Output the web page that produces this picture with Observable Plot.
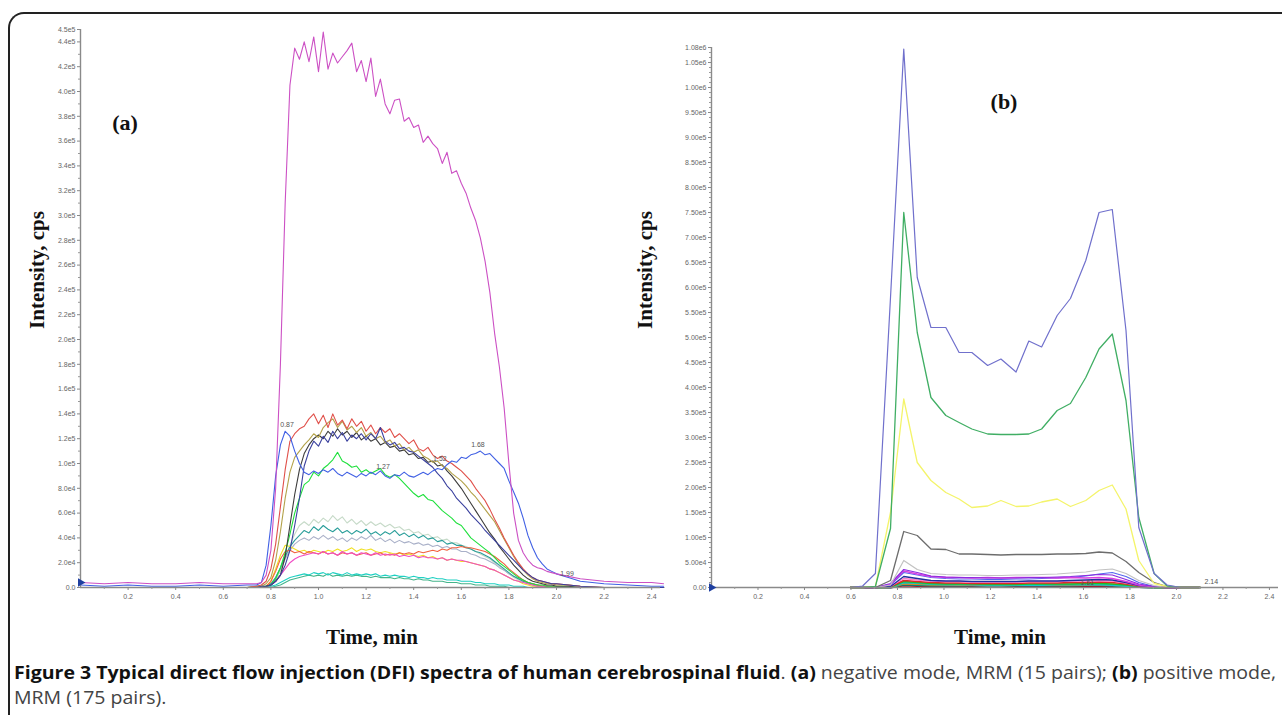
<!DOCTYPE html>
<html><head><meta charset="utf-8">
<script src="https://cdn.jsdelivr.net/npm/d3@7"></script>
<script src="https://cdn.jsdelivr.net/npm/@observablehq/plot@0.6"></script>
<style>
body{margin:0;background:#fff;width:1282px;height:715px;position:relative;overflow:hidden;font-family:"Liberation Sans",Arial,sans-serif}
.frame{position:absolute;left:8px;top:12px;width:1300px;height:720px;border-left:2px solid #222;border-top:2px solid #222;border-top-left-radius:16px;box-sizing:border-box}
.panel{position:absolute;top:0}
.ylab{position:absolute;font:bold 21px "Liberation Serif",serif;transform:translate(-50%,-50%) rotate(-90deg);white-space:nowrap;color:#111}
.xlab{position:absolute;font:bold 21px "Liberation Serif",serif;transform:translate(-50%,-50%);white-space:nowrap;color:#111}
.plab{position:absolute;font:bold 22px "Liberation Serif",serif;transform:translate(-50%,-50%);white-space:nowrap;color:#111}
.cap{position:absolute;left:14px;font-family:"Open Sans",sans-serif;font-size:18.5px;line-height:22px;white-space:nowrap;transform-origin:0 50%;color:#444}
.cap b{color:#111}
</style></head>
<body>
<div class="frame"></div>
<div class="panel" id="pa" style="left:0"></div>
<div class="panel" id="pb" style="left:620px"></div>
<div class="ylab" style="left:37px;top:270px">Intensity, cps</div>
<div class="ylab" style="left:645px;top:270px">Intensity, cps</div>
<div class="xlab" style="left:372px;top:637px">Time, min</div>
<div class="xlab" style="left:1000px;top:637px">Time, min</div>
<div class="plab" style="left:125px;top:123px">(a)</div>
<div class="plab" style="left:1004px;top:102px">(b)</div>
<div class="cap" id="cap1" style="top:661px"><b>Figure 3 Typical direct flow injection (DFI) spectra of human cerebrospinal fluid</b>. <b>(a)</b> negative mode, MRM (15 pairs); <b>(b)</b> positive mode,</div>
<div class="cap" id="cap2" style="top:686px">MRM (175 pairs).</div>
<script>
// ---------- Panel (a): negative mode, intensity in units of 1e4 cps ----------
const tA = [0,0.1,0.2,0.3,0.4,0.5,0.6,0.7,
0.74,0.76,0.78,0.80,0.82,0.84,0.86,0.88,0.90,0.92,
0.94,0.96,0.98,1.00,1.02,1.04,1.06,1.08,1.10,1.12,
1.14,1.16,1.18,1.20,1.22,1.24,1.26,1.28,1.30,1.32,
1.34,1.36,1.38,1.40,1.42,1.44,1.46,1.48,1.50,1.52,
1.54,1.56,1.58,1.60,1.62,1.64,1.66,1.68,1.70,1.72,
1.74,1.76,1.78,1.80,1.82,1.84,1.86,1.88,1.90,1.92,
1.94,1.96,1.98,2.00,
2.05,2.10,2.20,2.30,2.40,2.45];

const magentaA = [0.4,0.3,0.4,0.3,0.3,0.4,0.3,0.3,
0.3,0.4,1.0,3.0,8.0,18.0,31.0,40.5,43.5,42.6,
44.0,42.4,44.4,41.6,44.8,41.8,43.1,42.3,42.8,43.3,
43.9,41.6,42.5,40.8,42.7,39.6,41.0,39.0,38.2,39.3,
39.4,37.6,37.9,37.1,37.3,35.9,36.4,35.8,35.4,34.2,
35.1,33.4,33.6,32.6,31.8,30.6,29.6,28.2,26.3,23.8,
20.5,17.8,14.5,10.0,6.0,3.8,2.8,2.2,1.8,1.6,
1.5,1.3,1.2,1.1,
0.9,0.7,0.5,0.4,0.4,0.3];
const blueA = [0.2,0.1,0.2,0.1,0.1,0.2,0.1,0.2,
0.2,0.4,1.8,5.0,9.0,11.5,12.6,12.2,11.0,10.0,
9.3,9.1,9.4,9.2,9.5,9.3,9.6,9.2,9.0,9.3,
9.1,8.9,9.2,9.0,9.3,9.1,9.4,9.0,8.8,9.1,
9.0,9.3,9.0,8.9,9.1,9.3,9.1,9.4,9.6,9.5,
9.9,10.2,10.1,10.5,10.4,10.7,10.8,11.0,10.7,10.8,
10.4,10.0,9.6,8.6,7.7,6.8,5.6,4.2,3.2,2.4,
1.9,1.5,1.3,1.1,
0.8,0.5,0.3,0.2,0.1,0.1];
const redA = [0,0,0,0,0,0,0,0,
0.1,0.2,0.5,1.5,3.5,6.5,9.5,11.8,12.4,12.8,
13.0,13.6,14.0,13.2,13.9,12.9,14.0,13.1,13.5,12.8,
13.6,13.0,13.4,12.6,13.1,12.4,12.9,12.5,12.8,12.1,
12.4,12.0,11.6,11.9,11.2,11.0,11.3,10.7,10.4,10.6,
10.2,10.0,9.7,9.4,9.0,8.6,8.0,7.5,7.0,6.3,
5.5,4.8,4.0,3.3,2.6,2.0,1.5,1.1,0.8,0.6,
0.5,0.4,0.3,0.3,
0.2,0.1,0,0,0,0];
const oliveA = [0,0,0,0,0,0,0,0,
0.1,0.1,0.3,0.8,2.2,4.5,7.2,9.3,10.5,11.0,
11.5,11.9,12.4,12.1,12.9,13.3,13.6,12.9,13.4,12.7,
13.0,12.5,12.9,12.2,12.5,12.0,12.2,11.7,11.9,11.4,
11.6,11.1,11.3,10.9,11.1,10.6,10.4,10.1,10.2,9.8,
9.6,9.2,8.9,8.6,8.2,7.7,7.3,6.8,6.3,5.8,
5.3,4.6,3.9,3.2,2.5,1.9,1.4,1.0,0.7,0.5,
0.4,0.3,0.3,0.2,
0.2,0.1,0,0,0,0];
const navyA = [0,0,0,0,0,0,0,0,
0,0.1,0.1,0.2,0.5,1.0,1.8,3.0,5.0,7.2,
9.8,11.0,11.8,11.4,12.2,11.7,12.6,12.0,12.5,11.8,
12.3,12.0,12.4,11.9,12.4,12.0,12.9,11.8,11.5,11.7,
11.2,11.3,11.0,10.9,10.6,10.3,10.0,9.7,9.2,8.8,
8.2,7.8,7.2,6.8,6.4,5.9,5.5,5.1,4.6,4.2,
3.8,3.4,3.0,2.6,2.2,1.8,1.4,1.1,0.8,0.6,
0.5,0.4,0.3,0.3,
0.2,0.1,0,0,0,0];
const blackA = [0,0,0,0,0,0,0,0,
0,0,0.1,0.2,0.5,1.0,2.5,5.0,7.5,9.5,
10.8,11.5,12.0,12.3,12.0,12.6,12.2,12.8,12.3,12.6,
12.1,12.5,11.9,12.2,11.8,12.0,11.5,11.7,11.3,11.4,
11.0,11.1,10.7,10.8,10.4,10.5,10.1,10.2,9.8,9.9,
9.4,9.0,8.5,8.0,7.4,6.8,6.2,5.6,5.0,4.4,
3.9,3.3,2.8,2.3,1.8,1.4,1.0,0.7,0.5,0.4,
0.3,0.2,0.2,0.1,
0.1,0,0,0,0,0];
const greenA = [0,0,0,0,0,0,0,0,
0.1,0.1,0.1,0.2,0.7,1.6,2.8,4.3,6.0,7.2,
8.3,8.6,9.3,9.0,9.6,9.9,10.3,10.9,10.2,10.0,
9.7,9.8,9.3,9.5,9.2,9.4,9.6,9.1,8.9,9.1,
8.8,8.4,8.0,7.6,7.3,7.5,7.1,7.0,6.6,6.2,
5.9,5.6,5.2,5.0,4.5,4.0,3.7,3.4,3.1,2.8,
2.4,2.0,1.7,1.4,1.1,0.8,0.6,0.4,0.3,0.2,
0.2,0.1,0.1,0.1,
0.1,0,0,0,0,0];
const paleA = [0,0,0,0,0,0,0,0,
0,0,0,0.2,0.6,1.3,2.3,3.4,4.3,5.0,
5.3,5.0,5.5,5.2,5.6,5.3,5.8,5.4,5.7,5.2,
5.5,5.1,5.4,5.0,5.3,5.0,5.2,4.9,5.1,4.8,
4.9,4.6,4.7,4.4,4.5,4.2,4.3,4.0,4.1,3.8,
3.9,3.6,3.6,3.4,3.3,3.1,2.9,2.7,2.5,2.3,
2.0,1.7,1.4,1.1,0.8,0.6,0.4,0.3,0.2,0.1,
0.1,0.1,0,0,
0,0,0,0,0,0];
const tealA = [0,0,0,0,0,0,0,0,
0,0,0.1,0.3,0.8,1.6,2.5,3.3,3.8,4.2,
4.6,4.4,4.9,4.6,5.0,4.7,4.5,4.8,4.4,4.6,
4.3,4.6,4.4,4.7,4.3,4.5,4.2,4.5,4.3,4.6,
4.2,4.4,4.1,4.3,4.0,4.2,3.9,4.0,3.7,3.8,
3.5,3.6,3.4,3.4,3.2,3.1,2.9,2.8,2.6,2.4,
2.1,1.8,1.5,1.2,0.9,0.7,0.5,0.4,0.3,0.2,
0.1,0.1,0.1,0,
0,0,0,0,0,0];
const steelA = [0,0,0,0,0,0,0,0,
0,0,0.1,0.3,0.8,1.5,2.3,3.0,3.5,3.8,
4.0,3.8,4.1,3.9,4.2,3.9,4.1,3.8,4.0,3.7,
4.0,3.8,4.1,3.9,4.2,3.8,4.0,3.7,3.9,3.6,
3.8,3.6,3.7,3.5,3.6,3.4,3.5,3.3,3.4,3.2,
3.3,3.1,3.1,2.9,2.9,2.7,2.6,2.4,2.3,2.1,
1.9,1.6,1.4,1.1,0.9,0.7,0.5,0.3,0.2,0.1,
0.1,0.1,0,0,
0,0,0,0,0,0];
const orangeA = [0,0,0,0,0,0,0,0,
0,0,0.1,0.5,1.3,2.3,2.9,3.0,2.8,2.9,
2.7,2.9,2.8,2.7,2.9,2.7,2.8,2.6,2.8,2.7,
2.8,2.6,2.7,2.8,2.6,2.7,2.8,2.6,2.7,2.6,
2.8,2.7,2.8,2.7,2.9,2.8,2.9,3.0,2.9,3.1,
3.0,3.2,3.2,3.3,3.2,3.2,3.1,3.0,2.9,2.7,
2.5,2.2,1.9,1.5,1.2,0.9,0.6,0.4,0.3,0.2,
0.1,0.1,0.1,0,
0,0,0,0,0,0];
const yellowA = [0,0,0,0,0,0,0,0,
0,0,0.1,0.5,1.5,2.6,3.4,3.3,3.1,2.9,
3.0,2.8,3.0,2.9,2.8,3.0,2.9,3.1,2.9,3.0,
3.2,2.9,3.1,3.0,3.1,2.9,2.8,2.9,2.8,2.7,
2.8,2.6,2.7,2.6,2.5,2.6,2.4,2.5,2.3,2.4,
2.2,2.3,2.2,2.1,2.1,2.0,1.9,1.8,1.7,1.5,
1.4,1.2,1.0,0.8,0.6,0.5,0.3,0.2,0.1,0.1,
0.1,0,0,0,
0,0,0,0,0,0];
const pinkA = [0,0,0,0,0,0,0,0,
0,0,0,0.2,0.5,1.0,1.5,2.0,2.3,2.5,
2.6,2.7,2.8,2.7,2.9,2.7,2.8,2.6,2.9,2.7,
2.8,2.6,2.8,2.7,2.6,2.8,2.6,2.7,2.6,2.7,
2.5,2.6,2.5,2.6,2.4,2.5,2.4,2.4,2.3,2.4,
2.2,2.3,2.2,2.2,2.1,2.0,1.9,1.8,1.7,1.5,
1.4,1.2,1.0,0.8,0.6,0.5,0.4,0.3,0.2,0.1,
0.1,0,0,0,
0,0,0,0,0,0];
const cyanA = [0,0,0,0,0,0,0,0,
0,0,0,0.1,0.2,0.4,0.6,0.8,0.9,1.0,
1.1,1.0,1.2,1.1,1.2,1.0,1.2,1.1,1.0,1.2,
1.0,1.1,1.0,1.1,1.0,1.1,0.9,1.0,0.9,1.0,
0.9,0.9,0.8,0.9,0.8,0.8,0.7,0.8,0.7,0.7,
0.6,0.6,0.6,0.5,0.5,0.5,0.4,0.4,0.3,0.3,
0.3,0.2,0.2,0.2,0.1,0.1,0.1,0,0,0,
0,0,0,0,
0,0,0,0,0,0];
const seagreenA = [0,0,0,0,0,0,0,0,
0,0,0,0,0.1,0.2,0.4,0.6,0.7,0.8,
0.9,1.0,0.9,1.0,0.9,1.1,0.9,1.0,0.9,1.0,
0.9,1.0,0.9,0.9,0.8,0.9,0.8,0.8,0.8,0.7,
0.8,0.7,0.7,0.6,0.7,0.6,0.6,0.5,0.5,0.5,
0.4,0.4,0.4,0.3,0.3,0.3,0.2,0.2,0.2,0.1,
0.1,0.1,0.1,0,0,0,0,0,0,0,
0,0,0,0,
0,0,0,0,0,0];

const seriesA = [
  {name:"pale", color:"#c6dac8", values:paleA},
  {name:"steel", color:"#a9b0c8", values:steelA},
  {name:"teal", color:"#2a9e9a", values:tealA},
  {name:"yellow", color:"#f0e024", values:yellowA},
  {name:"orange", color:"#f2603e", values:orangeA},
  {name:"pink", color:"#f04cc4", values:pinkA},
  {name:"seagreen", color:"#44b48a", values:seagreenA},
  {name:"cyan", color:"#1fd0c2", values:cyanA},
  {name:"green", color:"#1ee03c", values:greenA},
  {name:"black", color:"#3c3c3c", values:blackA},
  {name:"olive", color:"#b3a24a", values:oliveA},
  {name:"red", color:"#e0504a", values:redA},
  {name:"navy", color:"#3a409e", values:navyA},
  {name:"blue", color:"#4060e4", values:blueA},
  {name:"magenta", color:"#cc50c4", values:magentaA}
];
const peakTimeA = [0.868, 1.271, 1.51, 1.67, 2.044];
const peakLevelA = [13.1, 9.7, 10.4, 11.5, 1.13];
const peakTextA = ["0.87", "1.27", "1.52", "1.68", "1.99"];
const yTicksA = [0,20000,40000,60000,80000,100000,120000,140000,160000,180000,200000,220000,240000,260000,280000,300000,320000,340000,360000,380000,400000,420000,440000,450000];

// ---------- Panel (b): positive mode, intensity in units of 1e5 cps ----------
const tB = [0.6,0.65,0.705,0.77,
0.827,0.885,0.944,1.008,1.065,1.12,1.188,1.245,1.31,1.365,
1.42,1.487,1.544,1.61,1.667,1.724,1.783,1.838,1.904,1.96,
2.02,2.1];
const blueB = [0,0.03,0.28,5.8, 10.77,6.2,5.2,5.2,4.7,4.7,4.44,4.57,4.31,4.93, 4.81,5.44,5.78,6.54,7.5,7.56,5.14,1.2,0.28,0.05, 0,0];
const greenB = [0,0,0.02,1.18, 7.5,5.1,3.8,3.44,3.3,3.17,3.07,3.06,3.06,3.07, 3.17,3.54,3.68,4.2,4.77,5.07,3.74,1.4,0.28,0.03, 0,0];
const yellowB = [0,0,0.02,1.5, 3.77,2.5,2.14,1.9,1.77,1.6,1.63,1.74,1.62,1.63, 1.71,1.77,1.62,1.74,1.94,2.05,1.57,0.54,0.08,0.02, 0,0];
const greyB = [0,0,0,0.14, 1.12,1.04,0.77,0.76,0.67,0.67,0.66,0.65,0.66,0.66, 0.66,0.67,0.67,0.68,0.71,0.69,0.52,0.3,0.1,0.02, 0,0];
const lightGreyB = [0,0,0,0.05, 0.54,0.36,0.28,0.26,0.25,0.25,0.24,0.24,0.25,0.25, 0.26,0.27,0.29,0.31,0.35,0.37,0.28,0.14,0.04,0, 0,0];
const violetB = [0,0,0,0.08, 0.36,0.3,0.23,0.21,0.2,0.2,0.19,0.19,0.19,0.2, 0.2,0.21,0.22,0.24,0.26,0.25,0.16,0.07,0.02,0, 0,0];
const navySB = [0,0,0,0.02, 0.22,0.18,0.14,0.13,0.13,0.12,0.12,0.12,0.12,0.13, 0.13,0.13,0.14,0.15,0.16,0.15,0.1,0.04,0.01,0, 0,0];
const blueSB = [0,0,0,0.05, 0.3,0.25,0.2,0.18,0.17,0.17,0.16,0.16,0.17,0.17, 0.18,0.19,0.2,0.23,0.27,0.3,0.22,0.1,0.02,0, 0,0];
const magentaSB = [0,0,0,0.06, 0.33,0.27,0.22,0.2,0.2,0.19,0.2,0.19,0.2,0.2, 0.2,0.19,0.2,0.19,0.2,0.18,0.12,0.05,0.01,0, 0,0];
const pinkSB = [0,0,0,0.02, 0.18,0.15,0.13,0.12,0.12,0.11,0.11,0.11,0.11,0.12, 0.12,0.12,0.13,0.13,0.14,0.13,0.09,0.04,0.01,0, 0,0];
const redSB = [0,0,0,0.02, 0.14,0.12,0.1,0.09,0.09,0.08,0.08,0.08,0.08,0.09, 0.09,0.09,0.1,0.1,0.11,0.1,0.07,0.03,0.01,0, 0,0];
const greenSB = [0,0,0,0.01, 0.12,0.1,0.08,0.07,0.07,0.07,0.06,0.06,0.06,0.07, 0.07,0.07,0.07,0.08,0.08,0.07,0.05,0.02,0,0, 0,0];
const cyanSB = [0,0,0,0.01, 0.1,0.09,0.07,0.06,0.06,0.06,0.05,0.05,0.05,0.05, 0.05,0.06,0.06,0.06,0.06,0.05,0.03,0.01,0,0, 0,0];
const brownSB = [0,0,0,0.01, 0.09,0.08,0.07,0.06,0.06,0.05,0.05,0.05,0.05,0.05, 0.05,0.05,0.05,0.06,0.06,0.05,0.04,0.02,0,0, 0,0];
const orangeSB = [0,0,0,0.01, 0.08,0.07,0.06,0.06,0.05,0.05,0.05,0.05,0.05,0.05, 0.06,0.06,0.06,0.06,0.07,0.06,0.04,0.02,0,0, 0,0];
const tealSB = [0,0,0,0, 0.06,0.05,0.04,0.04,0.04,0.04,0.04,0.04,0.04,0.04, 0.04,0.04,0.04,0.05,0.05,0.04,0.03,0.01,0,0, 0,0];
const darkRedSB = [0,0,0,0, 0.04,0.03,0.03,0.03,0.03,0.03,0.04,0.04,0.03,0.03, 0.03,0.03,0.03,0.03,0.03,0.03,0.02,0.01,0,0, 0,0];

const seriesB = [
  {name:"darkred", color:"#a00018", values:darkRedSB, w:2},
  {name:"teal", color:"#008a80", values:tealSB, w:2},
  {name:"orange", color:"#ff9a10", values:orangeSB, w:2},
  {name:"brown", color:"#c07830", values:brownSB, w:2},
  {name:"cyan", color:"#12c6d0", values:cyanSB, w:2},
  {name:"greenS", color:"#22bb22", values:greenSB, w:1.6},
  {name:"redS", color:"#e02828", values:redSB, w:1.6},
  {name:"pinkS", color:"#ff7ac8", values:pinkSB, w:1.3},
  {name:"navyS", color:"#2030a0", values:navySB, w:1.3},
  {name:"blueS", color:"#5566ee", values:blueSB, w:1.2},
  {name:"magentaS", color:"#d83ee0", values:magentaSB, w:1.3},
  {name:"violet", color:"#8b2be0", values:violetB, w:1.2},
  {name:"lightgrey", color:"#c2c2c2", values:lightGreyB, w:1.2},
  {name:"grey", color:"#6d6d6d", values:greyB, w:1.3},
  {name:"yellow", color:"#f4f46a", values:yellowB, w:1.3},
  {name:"green", color:"#40ae64", values:greenB, w:1.3},
  {name:"blue", color:"#7070cc", values:blueB, w:1.2}
];
const peakTimeB = [1.617, 2.15];
const peakLevelB = [0.1, 0.12];
const peakTextB = ["1.61", "2.14"];
const yTicksB = [0,50000,100000,150000,200000,250000,300000,350000,400000,450000,500000,550000,600000,650000,700000,750000,800000,850000,900000,950000,1000000,1050000,1080000];

const xTicks = [0.2,0.4,0.6,0.8,1.0,1.2,1.4,1.6,1.8,2.0,2.2,2.4];
const xMinor = [0.1,0.3,0.5,0.7,0.9,1.1,1.3,1.5,1.7,1.9,2.1,2.3];

for (const s of seriesA) if (s.values.length !== tA.length) throw new Error("A " + s.name + " " + s.values.length + " vs " + tA.length);
for (const s of seriesB) if (s.values.length !== tB.length) throw new Error("B " + s.name + " " + s.values.length + " vs " + tB.length);

function fmtE(d) {
  return v => v === 0 ? (d === 1 ? "0.0" : "0.00") : d3.format("." + d + "e")(v).replace("+", "");
}

function panel(o) {
  const marks = [];
  for (const s of o.series) {
    const data = o.times.map((t, i) => ({t, v: s.values[i] * o.unit}));
    marks.push(Plot.line(data, {x: "t", y: "v", stroke: s.color, strokeWidth: s.w || 1.1}));
  }
  const lab = o.peakText.map((txt, i) => ({t: o.peakTime[i], v: o.peakLevel[i] * o.unit, txt}));
  marks.push(Plot.text(lab, {x: "t", y: "v", text: "txt", fontSize: 7, fill: "#555"}));
  marks.push(Plot.ruleX([0], {stroke: "#8a8a8a", strokeWidth: 1.4}));
  marks.push(Plot.ruleY([0], {stroke: "#8a8a8a", strokeWidth: 1.4}));
  marks.push(Plot.axisY(o.yTicks, {tickFormat: fmtE(o.digits), tickSize: 3, tickPadding: 2, fontSize: 7, fill: "#666", stroke: "#888", label: null}));
  marks.push(Plot.axisY(o.yMinor, {tickFormat: () => "", tickSize: 2, stroke: "#999", label: null}));
  marks.push(Plot.axisX(xTicks, {tickFormat: d3.format(".1f"), tickSize: 3, tickPadding: 4, fontSize: 7, fill: "#666", stroke: "#888", label: null}));
  marks.push(Plot.axisX(xMinor, {tickFormat: () => "", tickSize: 2, stroke: "#999", label: null}));
  marks.push(Plot.dot([{t: 0, v: o.triV}], {x: "t", y: "v", symbol: "triangle", r: 3.2, fill: "#1f3fa0", rotate: 90}));
  return Plot.plot({
    width: o.width, height: 610,
    marginLeft: o.mL, marginRight: o.mR, marginTop: o.mT, marginBottom: 23,
    x: {domain: [0, o.xMax]},
    y: {domain: [0, o.yMax]},
    style: {fontFamily: "Liberation Sans, Arial, sans-serif", background: "transparent", overflow: "visible"},
    marks
  });
}

document.getElementById("pa").append(panel({
  times: tA, series: seriesA, unit: 1e4, width: 670, mL: 80, mR: 10, mT: 29, xMax: 2.437, yMax: 450000,
  yTicks: yTicksA, yMinor: d3.range(10000, 450000, 20000), digits: 1,
  peakTime: peakTimeA, peakLevel: peakLevelA, peakText: peakTextA, triV: 4000
}));
document.getElementById("pb").append(panel({
  times: tB, series: seriesB, unit: 1e5, width: 662, mL: 91, mR: 4, mT: 47, xMax: 2.439, yMax: 1080000,
  yTicks: yTicksB, yMinor: d3.range(10000, 1080000, 10000).filter(v => v % 50000 !== 0), digits: 2,
  peakTime: peakTimeB, peakLevel: peakLevelB, peakText: peakTextB, triV: 0
}));

// fit caption to the reference line width
const c1 = document.getElementById("cap1"), c2 = document.getElementById("cap2");
const k = 1262 / c1.getBoundingClientRect().width;
c1.style.transform = "scaleX(" + k + ")";
c2.style.transform = "scaleX(" + k + ")";
</script>
</body></html>
